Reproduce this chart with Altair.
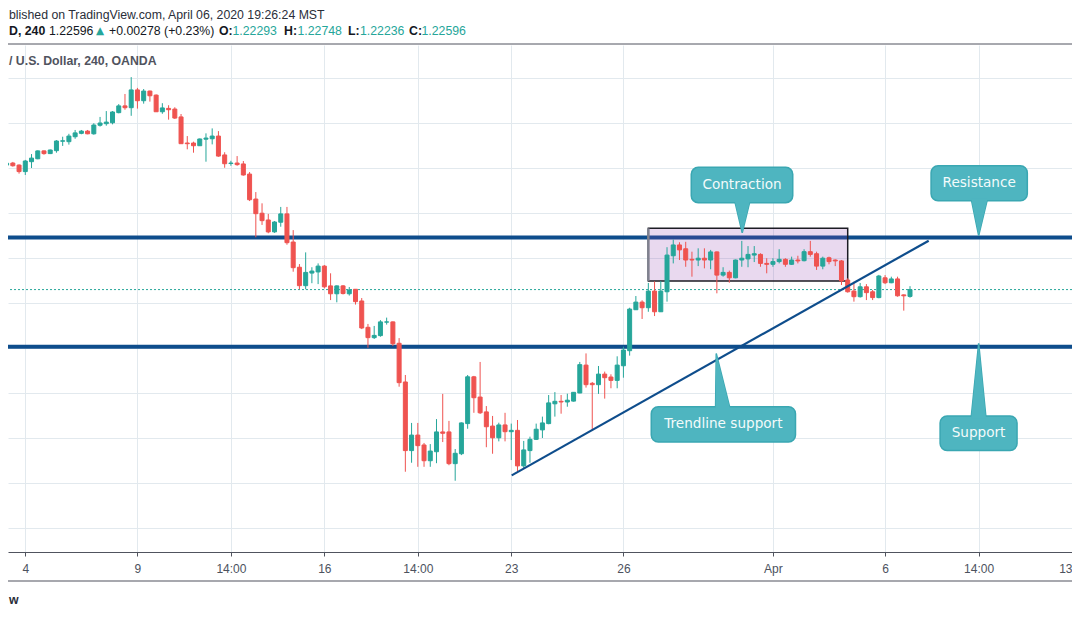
import altair as alt
import pandas as pd

# ---------------- data ----------------
idx = list(range(-4, 143))
opens = [1.2806, 1.2813, 1.2822, 1.2813, 1.2784, 1.2828, 1.2841, 1.2876, 1.2864, 1.2877,
         1.2919, 1.2917, 1.2939, 1.2954, 1.2964, 1.2952, 1.2990, 1.2997, 1.3001, 1.3046,
         1.3076, 1.3068, 1.3147, 1.3099, 1.3142, 1.3124, 1.3050, 1.3065, 1.3062, 1.3027,
         1.2911, 1.2911, 1.2899, 1.2928, 1.2930, 1.2942, 1.2858, 1.2820, 1.2822, 1.2818,
         1.2773, 1.2662, 1.2599, 1.2569, 1.2516, 1.2559, 1.2596, 1.2471, 1.2359, 1.2277,
         1.2333, 1.2338, 1.2364, 1.2276, 1.2241, 1.2276, 1.2241, 1.2261, 1.2209, 1.2092,
         1.2046, 1.2055, 1.2115, 1.2116, 1.2021, 1.1849, 1.1544, 1.1613, 1.1569, 1.1499,
         1.1539, 1.1627, 1.1627, 1.1486, 1.1530, 1.1664, 1.1872, 1.1782, 1.1716, 1.1653,
         1.1601, 1.1658, 1.1628, 1.1634, 1.1476, 1.1544, 1.1594, 1.1636, 1.1664, 1.1752,
         1.1763, 1.1760, 1.1764, 1.1800, 1.1924, 1.1843, 1.1837, 1.1884, 1.1871, 1.1856,
         1.1921, 1.1988, 1.2170, 1.2204, 1.2179, 1.2253, 1.2161, 1.2250, 1.2410, 1.2458,
         1.2441, 1.2394, 1.2391, 1.2399, 1.2391, 1.2427, 1.2324, 1.2336, 1.2312, 1.2391,
         1.2396, 1.2413, 1.2416, 1.2376, 1.2372, 1.2384, 1.2394, 1.2372, 1.2391, 1.2388,
         1.2428, 1.2419, 1.2364, 1.2401, 1.2391, 1.2387, 1.2302, 1.2253, 1.2228, 1.2272,
         1.2250, 1.2224, 1.2312, 1.2290, 1.2307, 1.2236, 1.22293]
highs = [1.2820, 1.2831, 1.2827, 1.2816, 1.2836, 1.2862, 1.2878, 1.2878, 1.2882, 1.2924,
         1.2939, 1.2952, 1.2969, 1.2969, 1.2969, 1.2999, 1.3027, 1.3053, 1.3053, 1.3084,
         1.3129, 1.3204, 1.3156, 1.3151, 1.3144, 1.3127, 1.3088, 1.3079, 1.3070, 1.3040,
         1.2942, 1.2917, 1.2931, 1.2954, 1.2976, 1.2964, 1.2870, 1.2832, 1.2853, 1.2831,
         1.2782, 1.2693, 1.2643, 1.2596, 1.2564, 1.2627, 1.2627, 1.2524, 1.2373, 1.2425,
         1.2359, 1.2376, 1.2369, 1.2332, 1.2278, 1.2280, 1.2271, 1.2262, 1.2222, 1.2107,
         1.2098, 1.2124, 1.2135, 1.2118, 1.2044, 1.1880, 1.1667, 1.1667, 1.1578, 1.1573,
         1.1684, 1.1796, 1.1676, 1.1551, 1.1669, 1.1880, 1.1876, 1.1938, 1.1742, 1.1698,
         1.1668, 1.1712, 1.1664, 1.1680, 1.1587, 1.1606, 1.1664, 1.1695, 1.1791, 1.1804,
         1.1791, 1.1797, 1.1804, 1.1938, 1.1976, 1.1849, 1.1920, 1.1895, 1.1883, 1.1963,
         1.2006, 1.2179, 1.2231, 1.2212, 1.2289, 1.2296, 1.2298, 1.2448, 1.2482, 1.2470,
         1.2472, 1.2428, 1.2443, 1.2443, 1.2436, 1.2429, 1.2359, 1.2344, 1.2393, 1.2476,
         1.2453, 1.2453, 1.2421, 1.2399, 1.2399, 1.2439, 1.2399, 1.2406, 1.2410, 1.2439,
         1.2476, 1.2428, 1.2406, 1.2406, 1.2394, 1.2391, 1.2310, 1.2295, 1.2289, 1.2284,
         1.2258, 1.2325, 1.2324, 1.2317, 1.2317, 1.2238, 1.22748]
lows = [1.2802, 1.2806, 1.2806, 1.2775, 1.2769, 1.2800, 1.2839, 1.2859, 1.2862, 1.2868,
        1.2898, 1.2904, 1.2930, 1.2950, 1.2950, 1.2948, 1.2984, 1.2988, 1.2994, 1.3043,
        1.3059, 1.3032, 1.3064, 1.3086, 1.3095, 1.3049, 1.3041, 1.3015, 1.3018, 1.2907,
        1.2883, 1.2868, 1.2898, 1.2828, 1.2905, 1.2850, 1.2801, 1.2810, 1.2810, 1.2766,
        1.2653, 1.2492, 1.2547, 1.2510, 1.2512, 1.2539, 1.2459, 1.2339, 1.2261, 1.2261,
        1.2288, 1.2284, 1.2265, 1.2213, 1.2203, 1.2238, 1.2233, 1.2193, 1.2084, 1.2001,
        1.2040, 1.2050, 1.2104, 1.2009, 1.1828, 1.1450, 1.1490, 1.1472, 1.1472, 1.1472,
        1.1488, 1.1582, 1.1479, 1.1410, 1.1524, 1.1641, 1.1712, 1.1707, 1.1559, 1.1530,
        1.1585, 1.1585, 1.1502, 1.1446, 1.1465, 1.1490, 1.1591, 1.1600, 1.1661, 1.1695,
        1.1708, 1.1739, 1.1762, 1.1799, 1.1824, 1.1639, 1.1796, 1.1775, 1.1821, 1.1821,
        1.1868, 1.1966, 1.2169, 1.2129, 1.2161, 1.2142, 1.2160, 1.2206, 1.2376, 1.2391,
        1.2361, 1.2317, 1.2364, 1.2354, 1.2350, 1.2243, 1.2317, 1.2290, 1.2310, 1.2361,
        1.2359, 1.2382, 1.2361, 1.2332, 1.2361, 1.2376, 1.2361, 1.2369, 1.2376, 1.2385,
        1.2406, 1.2347, 1.2350, 1.2372, 1.2364, 1.2280, 1.2246, 1.2206, 1.2224, 1.2213,
        1.2213, 1.2221, 1.2284, 1.2288, 1.2228, 1.2166, 1.22236]
closes = [1.2816, 1.2821, 1.2810, 1.2784, 1.2831, 1.2844, 1.2876, 1.2864, 1.2880, 1.2920,
          1.2921, 1.2942, 1.2956, 1.2964, 1.2952, 1.2991, 1.3000, 1.3004, 1.3049, 1.3076,
          1.3068, 1.3147, 1.3099, 1.3142, 1.3121, 1.3050, 1.3067, 1.3059, 1.3022, 1.2908,
          1.2908, 1.2899, 1.2929, 1.2933, 1.2942, 1.2853, 1.2819, 1.2822, 1.2815, 1.2769,
          1.2659, 1.2597, 1.2566, 1.2516, 1.2560, 1.2596, 1.2468, 1.2357, 1.2277, 1.2336,
          1.2342, 1.2364, 1.2272, 1.2241, 1.2276, 1.2242, 1.2258, 1.2206, 1.2089, 1.2046,
          1.2056, 1.2116, 1.2116, 1.2019, 1.1846, 1.1544, 1.1613, 1.1566, 1.1499, 1.1542,
          1.1627, 1.1621, 1.1486, 1.1532, 1.1667, 1.1872, 1.1779, 1.1712, 1.1650, 1.1601,
          1.1658, 1.1628, 1.1634, 1.1476, 1.1547, 1.1594, 1.1639, 1.1667, 1.1756, 1.1763,
          1.1760, 1.1768, 1.1803, 1.1926, 1.1837, 1.1837, 1.1884, 1.1868, 1.1856, 1.1924,
          1.1991, 1.2173, 1.2204, 1.2179, 1.2253, 1.2161, 1.2253, 1.2413, 1.2458, 1.2436,
          1.2391, 1.2391, 1.2399, 1.2391, 1.2427, 1.2324, 1.2336, 1.2312, 1.2391, 1.2399,
          1.2416, 1.2419, 1.2376, 1.2372, 1.2384, 1.2394, 1.2372, 1.2391, 1.2387, 1.2428,
          1.2416, 1.2364, 1.2399, 1.2384, 1.2387, 1.2298, 1.2250, 1.2228, 1.2272, 1.2246,
          1.2224, 1.2320, 1.2290, 1.2307, 1.2232, 1.2232, 1.22596]

tick_idx = [0, 18, 33, 48, 63, 78, 96, 120, 138, 153, 168]
tick_labels = ["4", "9", "14:00", "16", "14:00", "23", "26", "Apr", "6", "14:00", "13"]
grid_prices = [1.12, 1.14, 1.16, 1.18, 1.20, 1.22, 1.24, 1.26, 1.28, 1.30, 1.32]

resistance_level = [1.2491]
support_level = [1.2005]
last_price = [1.22596]
trend_x = [78.07, 145.0]
trend_y = [1.1434, 1.2477]
box_x = [100.0, 132.0]
box_y = [1.2298, 1.2532]

callout_text = ["Contraction", "Resistance", "Trendline support", "Support"]
callout_x0 = [106.89, 145.38, 100.47, 146.83]
callout_x1 = [123.18, 160.83, 123.62, 159.18]
callout_y0 = [1.2646, 1.2654, 1.1582, 1.1544]
callout_y1 = [1.2803, 1.2810, 1.1739, 1.1698]
ptr_base_y = [1.2646, 1.2654, 1.1739, 1.1698]
ptr_x0 = [113.83, 151.80, 110.79, 151.80]
ptr_x1 = [116.35, 154.46, 113.15, 154.21]
ptr_tip_x = [115.07, 153.02, 110.90, 153.02]
ptr_tip_y = [1.2512, 1.2500, 1.1976, 1.2021]

header1 = "blished on TradingView.com, April 06, 2020 19:26:24 MST"
header2_sym = "D, 240"
header2_last = "1.22596"
header2_arrow = "\u25b2"
header2_change = "+0.00278 (+0.23%)"
ohlc_keys = ["O:", "H:", "L:", "C:"]
ohlc_vals = ["1.22293", "1.22748", "1.22236", "1.22596"]
header3 = "/ U.S. Dollar, 240, OANDA"
footer = "w"

# ---------------- styles ----------------
UP = "#26a69a"
DOWN = "#ef5350"
BLUE = "#0e4d8c"
GRID = "#e2e9ee"
AXIS = "#50535e"
DARK = "#131722"
CALL_FILL = "#4eb5c0"
CALL_EDGE = "#3aa7b2"
FONT = "Liberation Sans"

W, H = 1064, 507
XS = alt.Scale(domain=[-2.775, 168.0], nice=False, zero=False, padding=0)
YS = alt.Scale(domain=[1.109333, 1.334667], nice=False, zero=False, padding=0)

df = pd.DataFrame({"i": idx, "open": opens, "high": highs, "low": lows, "close": closes})
df["dir"] = ["up" if c >= o else "down" for o, c in zip(df["open"], df["close"])]
dir_scale = alt.Scale(domain=["up", "down"], range=[UP, DOWN])

label_expr = ("[" + ",".join(f"'{t}'" for t in tick_labels) + "][indexof(["
              + ",".join(str(t) for t in tick_idx) + "], datum.value)]")
x_axis = alt.Axis(values=tick_idx, labelExpr=label_expr, title=None, grid=True,
                  gridColor=GRID, gridWidth=1, domainColor=AXIS, domainWidth=1,
                  tickColor=AXIS, tickSize=4, labelFont=FONT, labelFontSize=12,
                  labelColor="#4c525e", labelPadding=7, labelFlush=True,
                  labelOverlap=False)
y_axis = alt.Axis(values=grid_prices, grid=True, gridColor=GRID, gridWidth=1,
                  labels=False, ticks=False, domain=False, title=None)


def X(field):
    return alt.X(field, scale=XS, axis=x_axis)


def Y(field):
    return alt.Y(field, scale=YS, axis=y_axis)


# horizontal support / resistance lines
hlines = alt.Chart(pd.DataFrame({"p": resistance_level + support_level})).mark_rule(
    strokeWidth=4, color=BLUE).encode(y=Y("p:Q"))

last_line = alt.Chart(pd.DataFrame({"p": last_price})).mark_rule(
    strokeWidth=1, color=UP, strokeDash=[2, 2]).encode(y=Y("p:Q"))

box_df = pd.DataFrame({"x0": [box_x[0]], "x1": [box_x[1]], "y0": [box_y[0]], "y1": [box_y[1]]})
box = alt.Chart(box_df).mark_rect(fill="#9040b0", fillOpacity=0.2, stroke="#1c1c24",
                                  strokeWidth=1.5).encode(
    x=X("x0:Q"), x2="x1:Q", y=Y("y0:Q"), y2="y1:Q")
box_edge = alt.Chart(box_df).mark_rule(strokeWidth=2.5, color="#80828f").encode(
    x=X("x0:Q"), y=Y("y0:Q"), y2="y1:Q")

wicks = alt.Chart(df).mark_rule(strokeWidth=1, clip=True).encode(
    x=X("i:Q"), y=Y("low:Q"), y2="high:Q",
    color=alt.Color("dir:N", scale=dir_scale, legend=None))
bodies = alt.Chart(df).mark_bar(size=4, strokeWidth=1, clip=True).encode(
    x=X("i:Q"), y=Y("open:Q"), y2="close:Q",
    color=alt.Color("dir:N", scale=dir_scale, legend=None),
    stroke=alt.Stroke("dir:N", scale=dir_scale, legend=None))

trend = alt.Chart(pd.DataFrame({"x": trend_x, "y": trend_y})).mark_line(
    strokeWidth=2.2, color=BLUE).encode(x=X("x:Q"), y=Y("y:Q"))

# callouts
call_df = pd.DataFrame({"t": callout_text, "x0": callout_x0, "x1": callout_x1,
                        "y0": callout_y0, "y1": callout_y1})
call_df["xc"] = (call_df["x0"] + call_df["x1"]) / 2
call_df["yc"] = (call_df["y0"] + call_df["y1"]) / 2

ptr_rows = []
for k, name in enumerate(callout_text):
    inward = 0.0012 if ptr_base_y[k] > ptr_tip_y[k] else -0.0012
    ptr_rows.append({"name": name, "yv": ptr_base_y[k] + inward, "xl": ptr_x0[k], "xr": ptr_x1[k]})
    ptr_rows.append({"name": name, "yv": ptr_tip_y[k], "xl": ptr_tip_x[k], "xr": ptr_tip_x[k]})
ptr_df = pd.DataFrame(ptr_rows)


def pointers(stroked):
    kw = dict(orient="horizontal", fill=CALL_FILL, fillOpacity=1)
    if stroked:
        kw.update(stroke=CALL_EDGE, strokeWidth=1.5)
    return alt.Chart(ptr_df).mark_area(**kw).encode(
        y=Y("yv:Q"), x=X("xl:Q"), x2="xr:Q", detail="name:N")


call_boxes = alt.Chart(call_df).mark_rect(cornerRadius=7, fill=CALL_FILL, stroke=CALL_EDGE,
                                          strokeWidth=1.5).encode(
    x=X("x0:Q"), x2="x1:Q", y=Y("y0:Q"), y2="y1:Q")
call_text = alt.Chart(call_df).mark_text(font="DejaVu Sans", fontSize=13.6, color="#f3fbfb",
                                         baseline="middle", align="center").encode(
    x=X("xc:Q"), y=Y("yc:Q"), text="t:N")


def txt(s, x, y, size=12.3, weight="normal", color=DARK, align="left", font=FONT,
        baseline="alphabetic"):
    return alt.Chart(pd.DataFrame({"t": [s]})).mark_text(
        align=align, baseline=baseline, font=font, fontSize=size,
        fontWeight=weight, color=color).encode(text="t:N", x=alt.value(x), y=alt.value(y))


headers = [
    txt(header1, 1, -36, color="#2a2e39", baseline="top"),
    txt(header2_sym, 1, -10.5, weight="bold"),
    txt(header2_last, 41, -10.5),
    txt(header2_arrow, 88, -11, size=10.5, color=UP, font="DejaVu Sans"),
    txt(header2_change, 101, -10.5),
    txt(header3, 1, 20, weight="bold", color="#50535e"),
    txt(footer, 1, 559, weight="bold", color="#2a2e39"),
]
key_x = [211, 276, 340, 401]
val_x = [224.5, 289.5, 352, 413.5]
for k in range(4):
    headers.append(txt(ohlc_keys[k], key_x[k], -10.5, weight="bold"))
    headers.append(txt(ohlc_vals[k], val_x[k], -10.5, color=UP))

top_sep = alt.Chart(pd.DataFrame({"a": [0]})).mark_rule(color=AXIS, strokeWidth=1).encode(
    x=alt.value(0), x2=alt.value(W), y=alt.value(-1))
bottom_sep = alt.Chart(pd.DataFrame({"a": [0]})).mark_rule(color=AXIS, strokeWidth=1.2).encode(
    x=alt.value(0), x2=alt.value(W), y=alt.value(536))

chart = alt.layer(
    hlines, last_line, box, box_edge, wicks, bodies, trend,
    pointers(True), call_boxes, pointers(False), call_text,
    *headers, top_sep, bottom_sep,
).properties(
    width=W, height=H,
    padding={"left": 0, "top": 37, "right": 0, "bottom": 58},
    autosize=alt.AutoSizeParams(type="none"),
    background="white",
).configure_view(stroke=None)

chart.save("out.html", embed_options={"renderer": "svg", "actions": False})
